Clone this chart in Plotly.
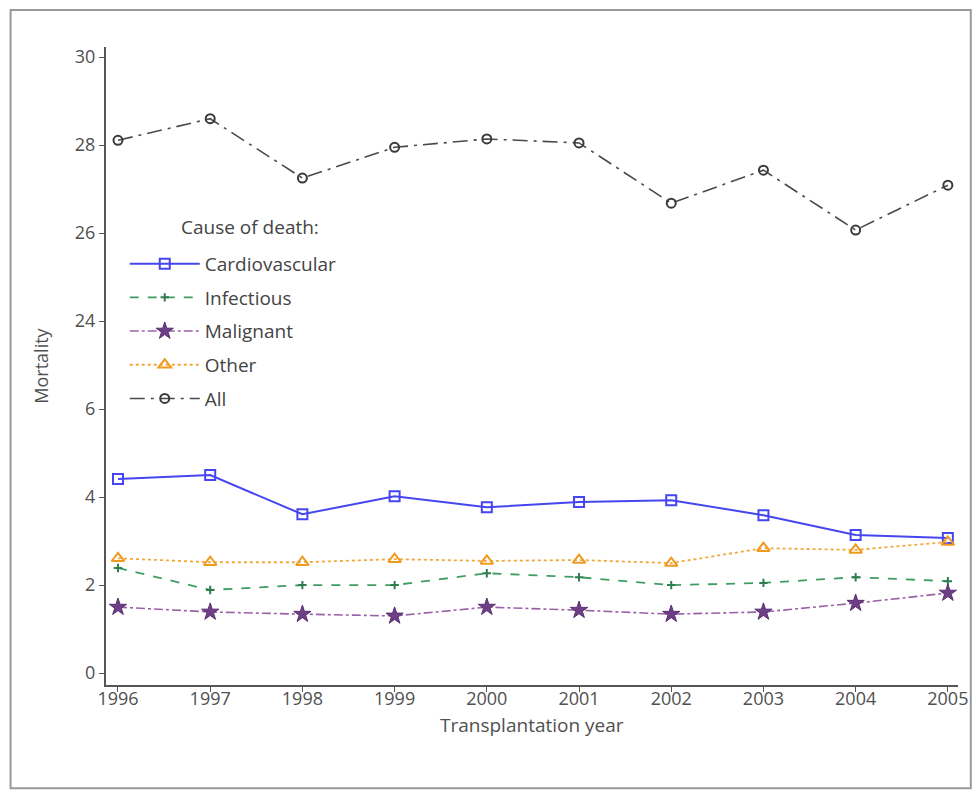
import plotly.graph_objects as go

years = [1996, 1997, 1998, 1999, 2000, 2001, 2002, 2003, 2004, 2005]
cardiovascular = [4.41, 4.50, 3.61, 4.02, 3.77, 3.89, 3.93, 3.59, 3.14, 3.07]
infectious = [2.39, 1.89, 2.00, 2.00, 2.27, 2.18, 2.00, 2.05, 2.18, 2.09]
malignant = [1.50, 1.39, 1.34, 1.30, 1.50, 1.43, 1.34, 1.39, 1.59, 1.82]
other = [2.61, 2.52, 2.52, 2.59, 2.55, 2.57, 2.50, 2.84, 2.80, 2.98]
all_causes = [28.11, 28.60, 27.25, 27.95, 28.14, 28.05, 26.68, 27.43, 26.07, 27.09]

tick_values = [0, 2, 4, 6, 24, 26, 28, 30]

# broken axis: values above the gap (6..24) are shifted down by 16
GAP_LOW, GAP_HIGH = 6, 24
def brk(v):
    return v if v <= GAP_LOW else v - (GAP_HIGH - GAP_LOW - 2)

series = [
    ("Cardiovascular", cardiovascular, dict(color="#4646f0", width=2, dash="solid"),
     dict(symbol="square-open", size=10, color="#4646f0", line=dict(width=2))),
    ("Infectious", infectious, dict(color="#3f9d63", width=1.8, dash="dash"),
     dict(symbol="cross-thin", size=6, color="#2f7d4f", line=dict(width=2, color="#2f7d4f"))),
    ("Malignant", malignant, dict(color="#9a62a6", width=1.6, dash="dashdot"),
     dict(symbol="star", size=13, color="#6e3f86", line=dict(width=1, color="#5a2f70"))),
    ("Other", other, dict(color="#f2a83a", width=1.8, dash="dot"),
     dict(symbol="triangle-up-open", size=11, color="#f09a20", line=dict(width=2))),
    ("All", all_causes, dict(color="#4a4a4a", width=1.6, dash="longdashdot"),
     dict(symbol="circle-open", size=9, color="#3a3a3a", line=dict(width=2))),
]

fig = go.Figure()
for i, (name, vals, line, marker) in enumerate(series):
    fig.add_trace(go.Scatter(
        x=years, y=[brk(v) for v in vals], name=name, mode="lines+markers",
        line=line, marker=marker, legendgroup=f"g{i}",
        customdata=vals, hovertemplate="%{x}: %{customdata}<extra>" + name + "</extra>",
    ))

TXT = "#505050"
fig.update_layout(
    width=980, height=794,
    margin=dict(l=106, r=15, t=47, b=109),
    paper_bgcolor="white", plot_bgcolor="white",
    font=dict(family="Open Sans, sans-serif", color=TXT, size=18),
    showlegend=True,
    legend=dict(
        x=0.022, y=0.69, xanchor="left", yanchor="top",
        bgcolor="rgba(0,0,0,0)", font=dict(size=19, color="#444"),
        tracegroupgap=6, itemwidth=70,
    ),
    xaxis=dict(
        range=[1995.87, 2005.11], tickvals=years, ticks="outside", ticklen=5,
        tickcolor="#555", showline=True, linecolor="#555", linewidth=2,
        showgrid=False, zeroline=False, tickfont=dict(size=18, color=TXT),
        ticklabelstandoff=-9,
    ),
    yaxis=dict(
        range=[-0.27, 14.23], tickvals=[brk(v) for v in tick_values],
        ticktext=[str(v) for v in tick_values], ticks="outside", ticklen=5,
        tickcolor="#555", showline=True, linecolor="#555", linewidth=2,
        showgrid=False, zeroline=False, tickfont=dict(size=18, color=TXT),
        title=dict(text="Mortality", font=dict(size=18, color=TXT), standoff=22),
    ),
    annotations=[
        dict(text="Cause of death:", xref="paper", yref="paper", x=0.086, y=0.718,
             xanchor="left", yanchor="middle", showarrow=False,
             font=dict(size=19, color="#444")),
        dict(text="Transplantation year", xref="paper", yref="paper", x=0.5, y=-0.063,
             xanchor="center", yanchor="middle", showarrow=False,
             font=dict(size=19, color=TXT)),
    ],
    shapes=[dict(
        type="rect", xref="paper", yref="paper",
        x0=-0.112, x1=1.015, y0=-0.162, y1=1.058,
        line=dict(color="#999", width=2), fillcolor="rgba(0,0,0,0)", layer="below",
    )],
)

fig.write_html(
    "out.html",
    config={"displayModeBar": False},
    post_script="document.body.style.margin='0';document.body.style.overflow='hidden';",
)
